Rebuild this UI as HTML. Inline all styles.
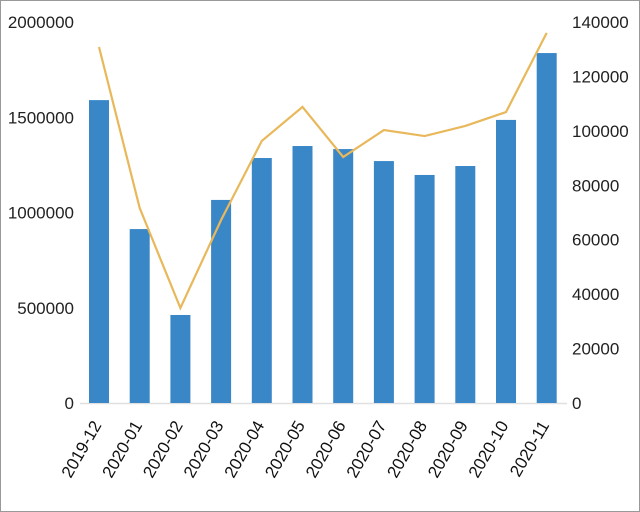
<!DOCTYPE html>
<html><head><meta charset="utf-8"><style>
body{margin:0;background:#fff;}
svg{display:block;font-family:"Liberation Sans",sans-serif;}
</style></head><body>
<svg width="640" height="512" viewBox="0 0 640 512">
<rect x="0.5" y="0.5" width="639" height="511" fill="#fff" stroke="#999"/>
<g id="plot"></g>
</svg>
<script>
const categories=["2019-12","2020-01","2020-02","2020-03","2020-04","2020-05","2020-06","2020-07","2020-08","2020-09","2020-10","2020-11"];
const barValues=[1590000,913000,462000,1066000,1286000,1349000,1333000,1270000,1197000,1244000,1486000,1837000];
const lineValues=[130800,71650,34900,67250,96300,108800,90400,100300,98100,101800,106900,136000];
const leftTicks=[0,500000,1000000,1500000,2000000];
const rightTicks=[0,20000,40000,60000,80000,100000,120000,140000];
const NS="http://www.w3.org/2000/svg";
const g=document.getElementById('plot');
const y0=403,y1=22,x0=79,step=40.7;
const yL=v=>y0-(v/2000000)*(y0-y1);
const yR=v=>y0-(v/140000)*(y0-y1);
const xC=i=>x0+20+i*step;
function mk(t,a){const e=document.createElementNS(NS,t);for(const k in a)e.setAttribute(k,a[k]);g.appendChild(e);return e;}
let ax=mk('line',{x1:80,x2:567,y1:y0+0.5,y2:y0+0.5,stroke:'#e0e0e0','stroke-width':1.5});


leftTicks.forEach(v=>{const t=mk('text',{x:74,y:yL(v)+6,'text-anchor':'end','font-size':17,fill:'#222'});t.textContent=v;

});
rightTicks.forEach(v=>{const t=mk('text',{x:572,y:yR(v)+6,'text-anchor':'start','font-size':17,fill:'#222'});t.textContent=v;

});
barValues.forEach((v,i)=>{const r=mk('rect',{x:xC(i)-10,y:yL(v),width:20,height:y0-yL(v),fill:'#3a87c8'});

});
const pts=lineValues.map((v,i)=>xC(i)+','+yR(v)).join(' ');
const pl=mk('polyline',{points:pts,fill:'none',stroke:'#e8b85a','stroke-width':2.2});


categories.forEach((c,i)=>{const x=xC(i)+3,y=y0+22;const t=mk('text',{x:x,y:y,'text-anchor':'end','font-size':17,fill:'#111',transform:`rotate(-60 ${x} ${y})`});t.textContent=c;

});
</script>
</body></html>
